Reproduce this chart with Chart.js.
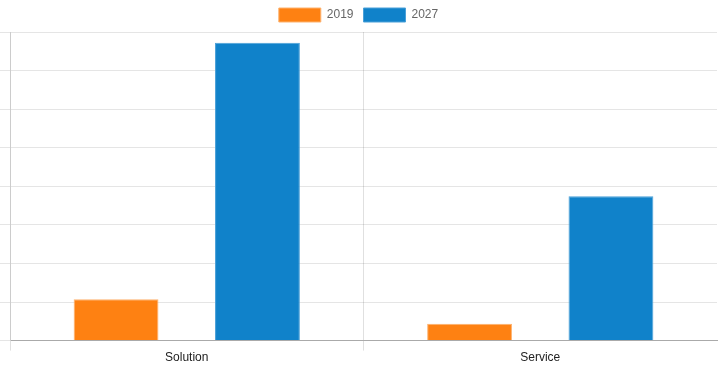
<!DOCTYPE html>
<html lang="en">
<head>
    <meta charset="UTF-8">
    <title>Solution vs Service</title>
    <script src="https://cdn.jsdelivr.net/npm/chart.js"></script>
    <style>
        html, body { margin: 0; padding: 0; background: #fff; }
        .chartBox { width: 720px; height: 371px; }
    </style>
</head>
<body>
    <div class="chartBox">
        <canvas id="bars"></canvas>
    </div>
<script>
    // data
    const categories = ["Solution", "Service"];
    const years = ["2019", "2027"];
    const values2019 = [1.07, 0.44];
    const values2027 = [7.72, 3.74];
    const yTicks = [0, 1, 2, 3, 4, 5, 6, 7, 8];

    Chart.defaults.font.family = "'Liberation Sans', Arial, sans-serif";
    Chart.defaults.font.size = 12;

    const config = {
        type: "bar",
        data: {
            labels: categories,
            datasets: [
                {
                    label: years[0],
                    data: values2019,
                    backgroundColor: "#fe8112",
                    borderColor: "#fdb26e",
                    borderWidth: 1,
                },
                {
                    label: years[1],
                    data: values2027,
                    backgroundColor: "#1082ca",
                    borderColor: "#4aa0d8",
                    borderWidth: 1,
                },
            ],
        },
        options: {
            responsive: true,
            maintainAspectRatio: false,
            animation: false,
            categoryPercentage: 0.8,
            barPercentage: 0.6,
            layout: { padding: { top: -2, right: 3, bottom: 6 } },
            plugins: {
                legend: {
                    labels: {
                        boxWidth: 42,
                        boxHeight: 14,
                        color: "#666",
                    },
                },
                tooltip: { enabled: false },
            },
            scales: {
                x: {
                    grid: {
                        tickLength: 10,
                        // no line on the far right edge
                        color: (c) => (c.type === "tick" ? "rgba(0,0,0,0.12)" : "rgba(0,0,0,0)"),
                    },
                    border: { color: "#aaa" },
                    ticks: { color: "#222", padding: 0 },
                },
                y: {
                    min: yTicks[0],
                    max: yTicks[yTicks.length - 1],
                    afterBuildTicks: (axis) => {
                        axis.ticks = yTicks.map((v) => ({ value: v }));
                    },
                    grid: {
                        tickLength: 10,
                        color: "rgba(0,0,0,0.1)",
                    },
                    border: { color: "#ccc" },
                    ticks: { display: false },
                },
            },
        },
    };

    new Chart(document.getElementById("bars"), config);
</script>
</body>
</html>
